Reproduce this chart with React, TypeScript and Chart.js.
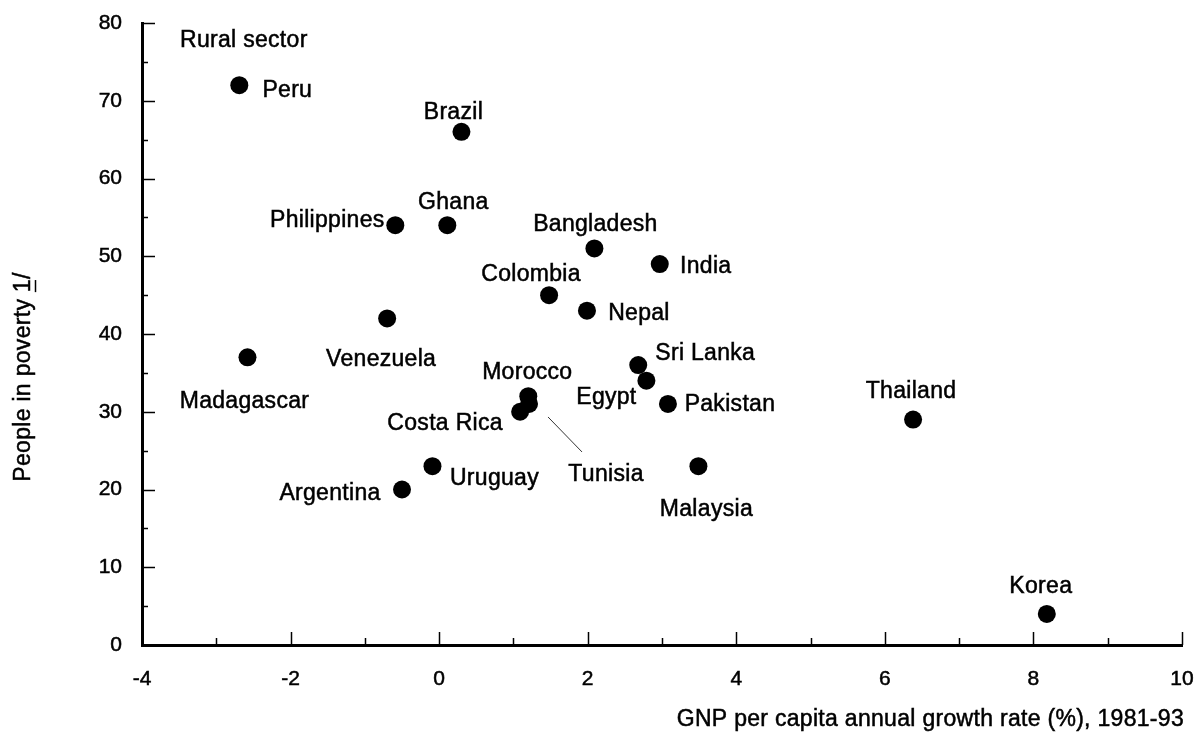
import React, { useEffect, useRef } from "react";
import { Chart, registerables } from "chart.js";

Chart.register(...registerables);

const countries = [
  "Peru", "Brazil", "Philippines", "Ghana", "Bangladesh", "India", "Colombia",
  "Nepal", "Venezuela", "Madagascar", "Sri Lanka", "Egypt", "Morocco", "Tunisia",
  "Costa Rica", "Pakistan", "Thailand", "Uruguay", "Argentina", "Malaysia", "Korea",
];
const gnpGrowth = [
  -2.69, 0.3, -0.59, 0.11, 2.09, 2.97, 1.48,
  1.99, -0.7, -2.58, 2.68, 2.79, 1.2, 1.21,
  1.09, 3.08, 6.38, -0.09, -0.5, 3.49, 8.18,
];
const povertyRate = [
  72, 66, 54, 54, 51, 49, 45,
  43, 42, 37, 36, 34, 32, 31,
  30, 31, 29, 23, 20, 23, 4,
];

// label placement relative to each marker (pixels), centre of text
const labelOffsets: Record<string, [number, number]> = {
  Peru: [48, 3],
  Brazil: [-8, -21],
  Philippines: [-68, -6],
  Ghana: [6, -24],
  Bangladesh: [1, -26],
  India: [46, 1],
  Colombia: [-18, -22],
  Nepal: [52, 1],
  Venezuela: [-6, 39],
  Madagascar: [-3, 42],
  "Sri Lanka": [67, -13],
  Egypt: [-40, 15],
  Morocco: [-1, -26],
  Tunisia: [77, 69],
  "Costa Rica": [-75, 10],
  Pakistan: [62, -1],
  Thailand: [-2, -30],
  Uruguay: [62, 10],
  Argentina: [-72, 2],
  Malaysia: [8, 41],
  Korea: [-6, -29],
};

const FONT = "Liberation Sans, Arial, sans-serif";

function drawText(ctx: CanvasRenderingContext2D, s: string, x: number, y: number) {
  ctx.fillText(s, x, y);
  ctx.strokeText(s, x, y);
}

const annotPlugin = {
  id: "annot",
  afterDraw(chart: any) {
    const { ctx, chartArea } = chart;
    const x = chart.scales.x;
    const y = chart.scales.y;
    ctx.save();
    // inward ticks
    ctx.strokeStyle = "#000";
    ctx.lineWidth = 1.5;
    for (let v = -4; v <= 10; v++) {
      const px = Math.round(x.getPixelForValue(v)) + 0.5;
      const len = v % 2 === 0 ? 13 : 7;
      ctx.beginPath();
      ctx.moveTo(px, chartArea.bottom);
      ctx.lineTo(px, chartArea.bottom - len);
      ctx.stroke();
    }
    for (let v = 0; v <= 80; v += 5) {
      const py = Math.round(y.getPixelForValue(v)) + 0.5;
      const len = v % 10 === 0 ? 13 : 6;
      ctx.beginPath();
      ctx.moveTo(chartArea.left, py);
      ctx.lineTo(chartArea.left + len, py);
      ctx.stroke();
    }

    ctx.fillStyle = "#000";
    ctx.strokeStyle = "#000";
    ctx.lineWidth = 0.5;
    ctx.font = `23px ${FONT}`;
    (ctx as any).letterSpacing = "0.3px";
    ctx.textBaseline = "middle";
    ctx.textAlign = "center";

    const meta = chart.getDatasetMeta(0);
    meta.data.forEach((pt: any, i: number) => {
      const name = countries[i];
      const off = labelOffsets[name] || [0, -25];
      drawText(ctx, name, pt.x + off[0], pt.y + off[1] + 2);
      if (name === "Tunisia") {
        ctx.save();
        ctx.lineWidth = 1;
        ctx.strokeStyle = "#333";
        ctx.beginPath();
        ctx.moveTo(pt.x + 19, pt.y + 13);
        ctx.lineTo(pt.x + 53, pt.y + 48);
        ctx.stroke();
        ctx.restore();
      }
    });

    // panel title
    ctx.textAlign = "left";
    drawText(ctx, "Rural sector", 180, 41);

    // x axis title
    ctx.textAlign = "right";
    drawText(ctx, "GNP per capita annual growth rate (%), 1981-93", 1184, 720);

    // y axis title, rotated with underlined "1"
    ctx.save();
    ctx.translate(24, 377);
    ctx.rotate(-Math.PI / 2);
    ctx.textAlign = "left";
    const pre = "People in poverty ";
    const full = pre + "1/";
    const wFull = ctx.measureText(full).width;
    const wPre = ctx.measureText(pre).width;
    const wOne = ctx.measureText("1").width;
    const startX = -wFull / 2;
    drawText(ctx, full, startX, 0);
    ctx.lineWidth = 1.5;
    ctx.beginPath();
    ctx.moveTo(startX + wPre, 11.5);
    ctx.lineTo(startX + wPre + wOne - 1, 11.5);
    ctx.stroke();
    ctx.restore();

    ctx.restore();
  },
};

export default function App() {
  const ref = useRef<HTMLCanvasElement | null>(null);
  useEffect(() => {
    if (!ref.current) return;
    const chart = new Chart(ref.current, {
      type: "scatter",
      data: {
        datasets: [
          {
            label: "Rural sector",
            data: gnpGrowth.map((g, i) => ({ x: g, y: povertyRate[i] })),
            backgroundColor: "#000",
            borderColor: "#000",
            pointRadius: 9,
            pointHoverRadius: 9,
            borderWidth: 0,
          },
        ],
      },
      options: {
        animation: false,
        responsive: false,
        maintainAspectRatio: false,
        layout: { padding: { left: 0, right: 13, top: 23, bottom: 0 } },
        plugins: {
          legend: { display: false },
          tooltip: { enabled: false },
          title: { display: false },
        },
        scales: {
          x: {
            type: "linear",
            min: -4,
            max: 10,
            grid: { display: false },
            border: { display: true, color: "#000", width: 3 },
            ticks: {
              stepSize: 2,
              color: "#000",
              padding: 14,
              font: { family: FONT, size: 21 },
              textStrokeColor: "#000",
              textStrokeWidth: 0.5,
            },
            afterFit: (s: any) => {
              s.height = 91;
              s.paddingLeft = 0;
              s.paddingRight = 0;
            },
          },
          y: {
            type: "linear",
            min: 0,
            max: 80,
            grid: { display: false },
            border: { display: true, color: "#000", width: 3 },
            ticks: {
              stepSize: 10,
              color: "#000",
              padding: 12,
              font: { family: FONT, size: 21 },
              textStrokeColor: "#000",
              textStrokeWidth: 0.5,
            },
            afterFit: (s: any) => {
              s.width = 142;
              s.paddingTop = 0;
              s.paddingBottom = 0;
            },
          },
        },
      },
      plugins: [annotPlugin],
    });
    return () => chart.destroy();
  }, []);
  return (
    <div style={{ position: "absolute", left: 0, top: 0, width: 1195, height: 736, background: "#fff" }}>
      <canvas ref={ref} width={1195} height={736} style={{ width: 1195, height: 736 }} />
    </div>
  );
}
